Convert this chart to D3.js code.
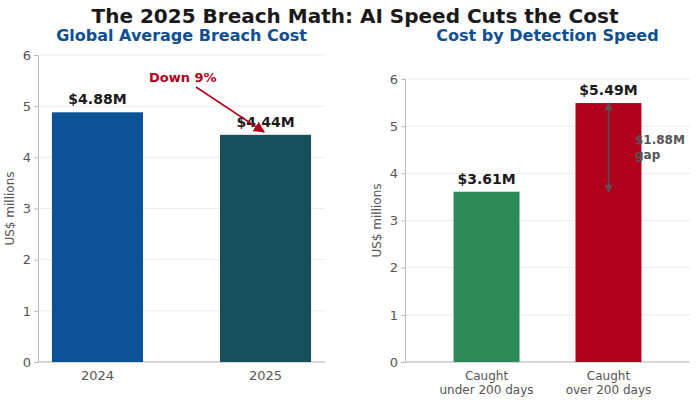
<!DOCTYPE html><html><head><meta charset="utf-8">
<script src="https://cdn.jsdelivr.net/npm/d3@7"></script>
<style>body{margin:0;background:#fff}text{font-family:"DejaVu Sans",sans-serif}</style></head><body>
<svg id="c" width="700" height="402"></svg>
<script>
const yearCats=["2024","2025"];
const yearVals=[4.88,4.44];
const yearColors=["#0b5394","#174f5a"];
const speedCats=[["Caught","under 200 days"],["Caught","over 200 days"]];
const speedVals=[3.61,5.49];
const speedColors=["#2e8b57","#b0001e"];
const ticks=[0,1,2,3,4,5,6];
const svg=d3.select("#c");
svg.append("defs").html(`<marker id="ar" viewBox="0 0 10 10" refX="9" refY="5" markerWidth="7" markerHeight="7" orient="auto-start-reverse"><path d="M0,0L10,5L0,10z" fill="#b0001e"/></marker>
<marker id="ag" viewBox="0 0 10 10" refX="9" refY="5" markerWidth="5" markerHeight="5" orient="auto-start-reverse"><path d="M0,0L10,5L0,10z" fill="#555"/></marker>`);
svg.append("text").attr("x",355).attr("y",23).attr("text-anchor","middle").attr("font-size",20).attr("font-weight","bold").attr("fill","#1a1a1a").text("The 2025 Breach Math: AI Speed Cuts the Cost");
function panel(x0,x1,ymax,title,cats,vals,cols,pad){
  const y=d3.scaleLinear().domain([0,6]).range([362,ymax]);
  const x=d3.scaleBand().domain(cats.map((d,i)=>i)).range([x0,x1]).paddingInner(pad[0]).paddingOuter(pad[1]);
  const g=svg.append("g");
  ticks.forEach(t=>g.append("line").attr("x1",x0).attr("x2",x1).attr("y1",y(t)).attr("y2",y(t)).attr("stroke","#e6e6e6").attr("stroke-width",0.8));
  const ax=g.append("g").attr("transform",`translate(${x0},0)`).call(d3.axisLeft(y).tickValues(ticks).tickFormat(d3.format("d")).tickSize(4));
  ax.select(".domain").attr("stroke","#bbb");ax.selectAll(".tick line").attr("stroke","#bbb");
  ax.selectAll("text").attr("font-size",13).attr("fill","#555");
  g.append("line").attr("x1",x0).attr("x2",x1).attr("y1",362).attr("y2",362).attr("stroke","#bbb");
  g.selectAll("rect").data(vals).enter().append("rect").attr("x",(d,i)=>x(i)).attr("width",x.bandwidth()).attr("y",d=>y(d)).attr("height",d=>362-y(d)).attr("fill",(d,i)=>cols[i]);
  vals.forEach((v,i)=>g.append("text").attr("x",x(i)+x.bandwidth()/2).attr("y",y(v)-8).attr("text-anchor","middle").attr("font-size",14).attr("font-weight","bold").attr("fill","#1a1a1a").text("$"+v.toFixed(2)+"M"));
  cats.forEach((c,i)=>{const lines=Array.isArray(c)?c:[c];lines.forEach((l,j)=>g.append("text").attr("x",x(i)+x.bandwidth()/2).attr("y",380+j*14).attr("text-anchor","middle").attr("font-size",Array.isArray(c)?12:13).attr("fill","#555").text(l));});
  g.append("text").attr("transform",`translate(${x0-24},${(362+ymax)/2}) rotate(-90)`).attr("text-anchor","middle").attr("font-size",12).attr("fill","#555").text("US$ millions");
  g.append("text").attr("x",(x0+x1)/2).attr("y",41).attr("text-anchor","middle").attr("font-size",16).attr("font-weight","bold").attr("fill","#0d4f91").text(title);
  return {x,y};
}
panel(38,325,55,"Global Average Breach Cost",yearCats,yearVals,yearColors,[0.458,0.083]);
const p=panel(405,690,79,"Cost by Detection Speed",speedCats,speedVals,speedColors,[0.459,0.398]);
svg.append("text").attr("x",149).attr("y",82).attr("font-size",13).attr("font-weight","bold").attr("fill","#b0001e").text("Down 9%");
svg.append("line").attr("x1",196).attr("y1",87).attr("x2",264).attr("y2",132).attr("stroke","#b0001e").attr("stroke-width",1.6).attr("marker-end","url(#ar)");
const cx=p.x(1)+p.x.bandwidth()/2;
svg.append("line").attr("x1",cx).attr("x2",cx).attr("y1",p.y(speedVals[1])).attr("y2",p.y(speedVals[0])).attr("stroke","#555").attr("stroke-width",1.6).attr("marker-start","url(#ag)").attr("marker-end","url(#ag)");
svg.append("text").attr("x",635).attr("y",144).attr("font-size",12).attr("font-weight","bold").attr("fill","#555").text("$"+(speedVals[1]-speedVals[0]).toFixed(2)+"M");
svg.append("text").attr("x",635).attr("y",159).attr("font-size",12).attr("font-weight","bold").attr("fill","#555").text("gap");
</script></body></html>
